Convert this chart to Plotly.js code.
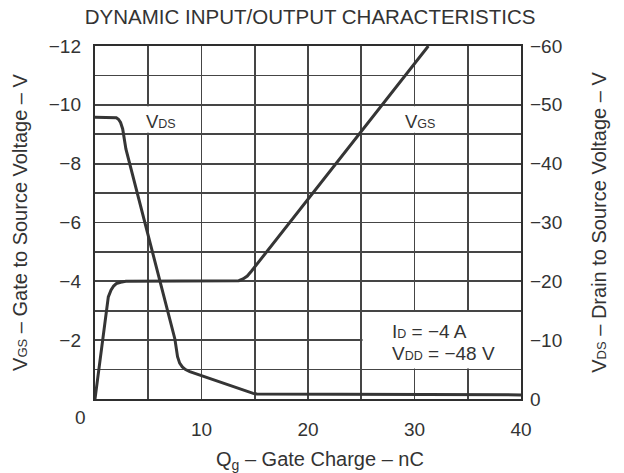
<!DOCTYPE html>
<html>
<head>
<meta charset="utf-8">
<script src="https://cdn.plot.ly/plotly-3.0.1.min.js"></script>
<style>html,body{margin:0;padding:0;background:#fff;}#chart{width:624px;height:473px;}</style>
</head>
<body>
<div id="chart"></div>
<script>
// Gate charge (nC) and V_GS (V, left axis)
const qVgs = [0, 1.25, 1.5, 1.75, 2.0, 2.4, 2.9, 13.0, 13.5, 13.9, 14.3, 14.7, 31.3];
const vgs  = [0, -3.47, -3.7, -3.84, -3.92, -3.97, -4.0, -4.0, -4.02, -4.08, -4.18, -4.35, -12];
// Gate charge (nC) and V_DS (V, right axis)
const qVds = [0, 1.7, 2.0, 2.2, 2.4, 2.6, 2.9, 7.5, 7.75, 7.95, 8.2, 8.5, 8.9, 14.85, 15.2, 40];
const vds  = [-47.9, -47.9, -47.8, -47.55, -47.0, -45.9, -42.5, -10.2, -7.2, -6.1, -5.45, -5.0, -4.65, -0.95, -0.85, -0.7];

const xTickVals = [0, 5, 10, 15, 20, 25, 30, 35, 40];
const xTickText = ['', '', '10', '', '20', '', '30', '', '40'];
const leftTickVals = [0, -1, -2, -3, -4, -5, -6, -7, -8, -9, -10, -11, -12];
const leftTickText = ['', '', '\u22122', '', '\u22124', '', '\u22126', '', '\u22128', '', '\u221210', '', '\u221212'];
const rightTickVals = [0, -10, -20, -30, -40, -50, -60];
const rightTickText = ['0', '\u221210', '\u221220', '\u221230', '\u221240', '\u221250', '\u221260'];

const FONT = 'Liberation Sans, Arial, Helvetica, sans-serif';
const INK = '#333333';
const GRID = '#454545';

const traces = [
  {x: qVgs, y: vgs, mode: 'lines', line: {color: '#353535', width: 3}, yaxis: 'y', showlegend: false, hoverinfo: 'skip'},
  {x: qVds, y: vds, mode: 'lines', line: {color: '#353535', width: 3}, yaxis: 'y2', showlegend: false, hoverinfo: 'skip'}
];

const layout = {
  width: 624, height: 473,
  margin: {l: 95, r: 102.5, t: 45.5, b: 74, pad: 0},
  paper_bgcolor: '#ffffff', plot_bgcolor: '#ffffff',
  font: {family: FONT, color: INK, size: 19},
  title: {text: 'DYNAMIC INPUT/OUTPUT CHARACTERISTICS', font: {family: FONT, size: 20.5, color: INK}, x: 0.497, xanchor: 'center', y: 0.964, yanchor: 'middle'},
  xaxis: {
    range: [0, 40], tickvals: xTickVals, ticktext: xTickText, ticks: '', ticklabelstandoff: 12,
    showgrid: true, gridcolor: GRID, gridwidth: 1.8, zeroline: false,
    showline: true, mirror: true, linecolor: '#2e2e2e', linewidth: 2.2,
    tickfont: {size: 19, color: INK}
  },
  yaxis: {
    range: [0, -12], tickvals: leftTickVals, ticktext: leftTickText, ticks: '', ticklabelstandoff: 8,
    showgrid: true, gridcolor: GRID, gridwidth: 1.8, zeroline: false,
    showline: true, mirror: true, linecolor: '#2e2e2e', linewidth: 2.2,
    tickfont: {size: 19, color: INK},
    title: {text: 'V<span style="font-size:13px">GS</span> \u2013 Gate to Source Voltage \u2013 V', font: {size: 20, color: INK}, standoff: 16}
  },
  yaxis2: {
    range: [0, -60], tickvals: rightTickVals, ticktext: rightTickText, ticks: '', ticklabelstandoff: 8,
    overlaying: 'y', side: 'right', showgrid: false, zeroline: false, showline: false,
    tickfont: {size: 19, color: INK},
    title: {text: 'V<span style="font-size:13px">DS</span> \u2013 Drain to Source Voltage \u2013 V', font: {size: 20, color: INK}, standoff: 30}
  },
  shapes: [
    {type: 'rect', xref: 'x', yref: 'y', x0: 4.55, x1: 7.9, y0: -9.95, y1: -9.05, fillcolor: '#ffffff', line: {width: 0}, layer: 'between'},
    {type: 'rect', xref: 'x', yref: 'y', x0: 28.9, x1: 32.3, y0: -9.95, y1: -9.05, fillcolor: '#ffffff', line: {width: 0}, layer: 'between'},
    {type: 'rect', xref: 'x', yref: 'y', x0: 25.12, x1: 40, y0: -1.04, y1: -2.96, fillcolor: '#ffffff', line: {width: 0}, layer: 'between'}
  ],
  annotations: [
    {xref: 'paper', yref: 'paper', x: 0.5275, y: -0.175, text: 'Q<sub>g</sub> \u2013 Gate Charge \u2013 nC', showarrow: false, font: {size: 20, color: INK}, xanchor: 'center', yanchor: 'middle'},
    {xref: 'x', yref: 'y', x: 6.2, y: -9.42, text: 'V<span style="font-size:12.5px">DS</span>', showarrow: false, font: {size: 18.5, color: INK}, xanchor: 'center', yanchor: 'middle'},
    {xref: 'x', yref: 'y', x: 30.55, y: -9.42, text: 'V<span style="font-size:12.5px">GS</span>', showarrow: false, font: {size: 18.5, color: INK}, xanchor: 'center', yanchor: 'middle'},
    {xref: 'x', yref: 'y', x: 27.7, y: -2.29, text: 'I<span style="font-size:12.5px">D</span> = \u22124 A', showarrow: false, font: {size: 19, color: INK}, xanchor: 'left', yanchor: 'middle'},
    {xref: 'x', yref: 'y', x: 27.7, y: -1.55, text: 'V<span style="font-size:12.5px">DD</span> = \u221248 V', showarrow: false, font: {size: 19, color: INK}, xanchor: 'left', yanchor: 'middle'},
    {xref: 'x', yref: 'y', x: 0, y: 0, xshift: -15, yshift: -18, text: '0', showarrow: false, font: {size: 19, color: INK}, xanchor: 'center', yanchor: 'middle'}
  ]
};

Plotly.newPlot('chart', traces, layout, {displayModeBar: false, staticPlot: true});
</script>
</body>
</html>
